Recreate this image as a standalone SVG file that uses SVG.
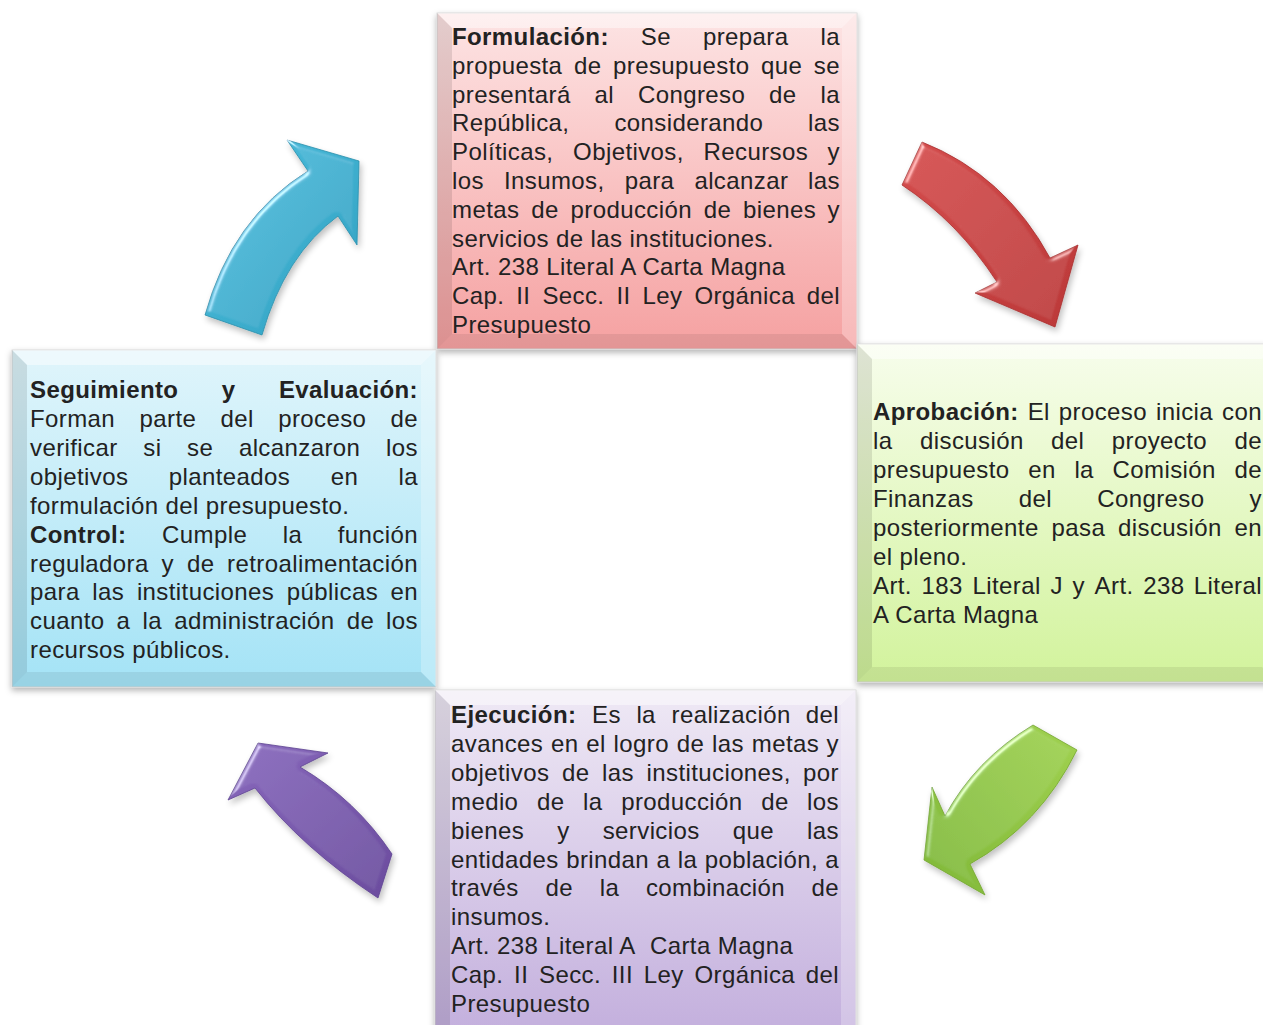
<svg xmlns="http://www.w3.org/2000/svg" width="1263" height="1025" viewBox="0 0 1263 1025">
<defs>
<style>
.t{font-family:"Liberation Sans",Arial,sans-serif;font-size:24px;letter-spacing:0.4px;fill:#222;}
.b{font-weight:bold;}
.e{text-anchor:end;}
.bt{fill:#fff;fill-opacity:0.45;}
.bl{fill:#000;fill-opacity:0.10;}
.br{fill:#fff;fill-opacity:0.25;}
.bb{fill:#000;fill-opacity:0.07;}
.frame{stroke:#d8d8d8;stroke-width:1;}
.arrow{stroke-width:0.8;stroke-linejoin:round;filter:url(#ab);}
</style>
<linearGradient id="gRed" x1="0" y1="0" x2="0" y2="1"><stop offset="0" stop-color="#fde4e4"/><stop offset="1" stop-color="#f5a1a1"/></linearGradient>
<linearGradient id="gGreen" x1="0" y1="0" x2="0" y2="1"><stop offset="0" stop-color="#f7fdec"/><stop offset="1" stop-color="#d2f39c"/></linearGradient>
<linearGradient id="gBlue" x1="0" y1="0" x2="0" y2="1"><stop offset="0" stop-color="#e0f5fb"/><stop offset="1" stop-color="#a4e3f6"/></linearGradient>
<linearGradient id="gPurple" x1="0" y1="0" x2="0" y2="1"><stop offset="0" stop-color="#efe9f5"/><stop offset="1" stop-color="#c3afdd"/></linearGradient>
<linearGradient id="aCyan" x1="0" y1="0" x2="1" y2="1"><stop offset="0" stop-color="#4ec0de"/><stop offset="1" stop-color="#2f9fc0"/></linearGradient>
<linearGradient id="aRed" x1="0" y1="0" x2="1" y2="1"><stop offset="0" stop-color="#d44c4c"/><stop offset="1" stop-color="#bb3838"/></linearGradient>
<linearGradient id="aGreen" x1="1" y1="0" x2="0" y2="1"><stop offset="0" stop-color="#a0d150"/><stop offset="1" stop-color="#80b838"/></linearGradient>
<linearGradient id="aPurple" x1="0" y1="0" x2="1" y2="1"><stop offset="0" stop-color="#8868bc"/><stop offset="1" stop-color="#6b4c9e"/></linearGradient>
<filter id="sh" x="-10%" y="-10%" width="120%" height="125%"><feDropShadow dx="0" dy="3" stdDeviation="3" flood-color="#000" flood-opacity="0.3"/></filter>
<filter id="ab" x="-20%" y="-20%" width="150%" height="150%">
<feGaussianBlur in="SourceAlpha" stdDeviation="2.5" result="bl"/>
<feSpecularLighting in="bl" surfaceScale="3" specularConstant="0.9" specularExponent="30" lighting-color="#ffffff" result="sp"><feDistantLight azimuth="225" elevation="40"/></feSpecularLighting>
<feComposite in="sp" in2="SourceAlpha" operator="in" result="si"/>
<feComposite in="SourceGraphic" in2="si" operator="arithmetic" k1="0" k2="1" k3="0.6" k4="0" result="lit"/>
<feGaussianBlur in="SourceAlpha" stdDeviation="3" result="sb"/>
<feOffset in="sb" dx="2" dy="4" result="so"/>
<feComponentTransfer in="so" result="sf"><feFuncA type="linear" slope="0.25"/></feComponentTransfer>
<feMerge><feMergeNode in="sf"/><feMergeNode in="lit"/></feMerge>
</filter>
</defs>
<rect width="1263" height="1025" fill="#fff"/>

<g id="connectors">
<path class="arrow" fill="url(#aCyan)" stroke="#2a8eab" d="M205,315 Q232,218 308,171 L287,140 L359,161 L357,245 L338,216 Q285,255 262,335 Z"/>
<path class="arrow" fill="url(#aRed)" stroke="#a82e2e" d="M922,142 Q1005,175 1050,258 L1078,245 L1055,327 L975,293 L997,282 Q958,222 902,185 Z"/>
<path class="arrow" fill="url(#aGreen)" stroke="#72a52e" d="M1033,725 Q975,760 945,816 L932,787 L924,860 L985,895 L970,864 Q1040,825 1077,750 Z"/>
<path class="arrow" fill="url(#aPurple)" stroke="#5d4290" d="M228,800 L258,743 L328,753 L300,767 Q356,800 392,854 L378,898 Q302,848 255,788 Z"/>
</g>

<g id="formulacion">
<rect class="frame" x="437" y="13" width="420" height="336" fill="url(#gRed)" filter="url(#sh)"/>
<path class="bt" d="M437,13 L857,13 L842,28 L452,28 Z"/>
<path class="bl" d="M437,13 L452,28 L452,334 L437,349 Z"/>
<path class="br" d="M857,13 L857,349 L842,334 L842,28 Z"/>
<path class="bb" d="M437,349 L452,334 L842,334 L857,349 Z"/>
<text class="t" y="45"><tspan class="b" x="452">Formulación:</tspan><tspan x="640.8">Se</tspan><tspan x="702.9">prepara</tspan><tspan class="e" x="840">la</tspan></text>
<text class="t" y="74"><tspan x="452">propuesta</tspan><tspan x="573.9">de</tspan><tspan x="613">presupuesto</tspan><tspan x="761.1">que</tspan><tspan class="e" x="840">se</tspan></text>
<text class="t" y="103"><tspan x="452">presentará</tspan><tspan x="594.6">al</tspan><tspan x="638">Congreso</tspan><tspan x="769.1">de</tspan><tspan class="e" x="840">la</tspan></text>
<text class="t" y="131"><tspan x="452">República,</tspan><tspan x="614.4">considerando</tspan><tspan class="e" x="840">las</tspan></text>
<text class="t" y="160"><tspan x="452">Políticas,</tspan><tspan x="573.1">Objetivos,</tspan><tspan x="703.5">Recursos</tspan><tspan class="e" x="840">y</tspan></text>
<text class="t" y="189"><tspan x="452">los</tspan><tspan x="504">Insumos,</tspan><tspan x="624.7">para</tspan><tspan x="694.4">alcanzar</tspan><tspan class="e" x="840">las</tspan></text>
<text class="t" y="218"><tspan x="452">metas</tspan><tspan x="531.2">de</tspan><tspan x="570.5">producción</tspan><tspan x="703.7">de</tspan><tspan x="743">bienes</tspan><tspan class="e" x="840">y</tspan></text>
<text class="t" x="452" y="247">servicios de las instituciones.</text>
<text class="t" x="452" y="275">Art. 238 Literal A Carta Magna</text>
<text class="t" y="304"><tspan x="452">Cap.</tspan><tspan x="516.3">II</tspan><tspan x="542.4">Secc.</tspan><tspan x="616.4">II</tspan><tspan x="642.5">Ley</tspan><tspan x="694.4">Orgánica</tspan><tspan class="e" x="840">del</tspan></text>
<text class="t" x="452" y="333">Presupuesto</text>
</g>

<g id="aprobacion">
<rect class="frame" x="857" y="344" width="420" height="338" fill="url(#gGreen)" filter="url(#sh)"/>
<path class="bt" d="M857,344 L1277,344 L1262,359 L872,359 Z"/>
<path class="bl" d="M857,344 L872,359 L872,667 L857,682 Z"/>
<path class="bb" d="M857,682 L872,667 L1262,667 L1277,682 Z"/>
<text class="t" y="420"><tspan class="b" x="873">Aprobación:</tspan><tspan x="1027.7">El</tspan><tspan x="1058.8">proceso</tspan><tspan x="1156">inicia</tspan><tspan class="e" x="1262">con</tspan></text>
<text class="t" y="449"><tspan x="873">la</tspan><tspan x="920">discusión</tspan><tspan x="1051.1">del</tspan><tspan x="1111.8">proyecto</tspan><tspan class="e" x="1262">de</tspan></text>
<text class="t" y="478"><tspan x="873">presupuesto</tspan><tspan x="1028.2">en</tspan><tspan x="1074.4">la</tspan><tspan x="1112.6">Comisión</tspan><tspan class="e" x="1262">de</tspan></text>
<text class="t" y="507"><tspan x="873">Finanzas</tspan><tspan x="1018.8">del</tspan><tspan x="1097.2">Congreso</tspan><tspan class="e" x="1262">y</tspan></text>
<text class="t" y="536"><tspan x="873">posteriormente</tspan><tspan x="1051.6">pasa</tspan><tspan x="1118.1">discusión</tspan><tspan class="e" x="1262">en</tspan></text>
<text class="t" x="873" y="565">el pleno.</text>
<text class="t" y="594"><tspan x="873">Art.</tspan><tspan x="921.6">183</tspan><tspan x="972.5">Literal</tspan><tspan x="1050.4">J</tspan><tspan x="1072.5">y</tspan><tspan x="1094.6">Art.</tspan><tspan x="1143.2">238</tspan><tspan class="e" x="1262">Literal</tspan></text>
<text class="t" x="873" y="623">A Carta Magna</text>
</g>

<g id="seguimiento">
<rect class="frame" x="12" y="350" width="424" height="337" fill="url(#gBlue)" filter="url(#sh)"/>
<path class="bt" d="M12,350 L436,350 L421,365 L27,365 Z"/>
<path class="bl" d="M12,350 L27,365 L27,672 L12,687 Z"/>
<path class="br" d="M436,350 L436,687 L421,672 L421,365 Z"/>
<path class="bb" d="M12,687 L27,672 L421,672 L436,687 Z"/>
<text class="t b" y="398"><tspan x="30">Seguimiento</tspan><tspan x="221.8">y</tspan><tspan class="e" x="418">Evaluación:</tspan></text>
<text class="t" y="427"><tspan x="30">Forman</tspan><tspan x="139.5">parte</tspan><tspan x="220.6">del</tspan><tspan x="278.2">proceso</tspan><tspan class="e" x="418">de</tspan></text>
<text class="t" y="456"><tspan x="30">verificar</tspan><tspan x="143.3">si</tspan><tspan x="187.1">se</tspan><tspan x="238.9">alcanzaron</tspan><tspan class="e" x="418">los</tspan></text>
<text class="t" y="485"><tspan x="30">objetivos</tspan><tspan x="168.8">planteados</tspan><tspan x="330.7">en</tspan><tspan class="e" x="418">la</tspan></text>
<text class="t" x="30" y="514">formulación del presupuesto.</text>
<text class="t" y="543"><tspan class="b" x="30">Control:</tspan><tspan x="162.1">Cumple</tspan><tspan x="282.8">la</tspan><tspan class="e" x="418">función</tspan></text>
<text class="t" y="572"><tspan x="30">reguladora</tspan><tspan x="161.6">y</tspan><tspan x="186.9">de</tspan><tspan class="e" x="418">retroalimentación</tspan></text>
<text class="t" y="600"><tspan x="30">para</tspan><tspan x="92.3">las</tspan><tspan x="136.9">instituciones</tspan><tspan x="286.8">públicas</tspan><tspan class="e" x="418">en</tspan></text>
<text class="t" y="629"><tspan x="30">cuanto</tspan><tspan x="116.6">a</tspan><tspan x="142.5">la</tspan><tspan x="174.2">administración</tspan><tspan x="346.7">de</tspan><tspan class="e" x="418">los</tspan></text>
<text class="t" x="30" y="658">recursos públicos.</text>
</g>

<g id="ejecucion">
<rect class="frame" x="435" y="690" width="421" height="345" fill="url(#gPurple)" filter="url(#sh)"/>
<path class="bt" d="M435,690 L856,690 L841,705 L450,705 Z"/>
<path class="bl" d="M435,690 L450,705 L450,1035 L435,1035 Z"/>
<path class="br" d="M856,690 L856,1035 L841,1035 L841,705 Z"/>
<text class="t" y="723"><tspan class="b" x="451">Ejecución:</tspan><tspan x="592">Es</tspan><tspan x="636.4">la</tspan><tspan x="671.5">realización</tspan><tspan class="e" x="839">del</tspan></text>
<text class="t" y="752"><tspan x="451">avances</tspan><tspan x="551">en</tspan><tspan x="586.3">el</tspan><tspan x="613.6">logro</tspan><tspan x="676.8">de</tspan><tspan x="712.1">las</tspan><tspan x="751.8">metas</tspan><tspan class="e" x="839">y</tspan></text>
<text class="t" y="781"><tspan x="451">objetivos</tspan><tspan x="561.9">de</tspan><tspan x="602">las</tspan><tspan x="646.5">instituciones,</tspan><tspan class="e" x="839">por</tspan></text>
<text class="t" y="810"><tspan x="451">medio</tspan><tspan x="537">de</tspan><tspan x="583.1">la</tspan><tspan x="621.2">producción</tspan><tspan x="761.2">de</tspan><tspan class="e" x="839">los</tspan></text>
<text class="t" y="839"><tspan x="451">bienes</tspan><tspan x="557.2">y</tspan><tspan x="602.7">servicios</tspan><tspan x="732.7">que</tspan><tspan class="e" x="839">las</tspan></text>
<text class="t" y="868"><tspan x="451">entidades</tspan><tspan x="566.2">brindan</tspan><tspan x="656.5">a</tspan><tspan x="677.7">la</tspan><tspan x="704.7">población,</tspan><tspan class="e" x="839">a</tspan></text>
<text class="t" y="896"><tspan x="451">través</tspan><tspan x="545.5">de</tspan><tspan x="599.7">la</tspan><tspan x="645.9">combinación</tspan><tspan class="e" x="839">de</tspan></text>
<text class="t" x="451" y="925">insumos.</text>
<text class="t" y="954"><tspan x="451">Art. 238 Literal A</tspan><tspan x="650">Carta Magna</tspan></text>
<text class="t" y="983"><tspan x="451">Cap.</tspan><tspan x="514.1">II</tspan><tspan x="539">Secc.</tspan><tspan x="611.8">III</tspan><tspan x="643.8">Ley</tspan><tspan x="694.5">Orgánica</tspan><tspan class="e" x="839">del</tspan></text>
<text class="t" x="451" y="1012">Presupuesto</text>
</g>
</svg>
